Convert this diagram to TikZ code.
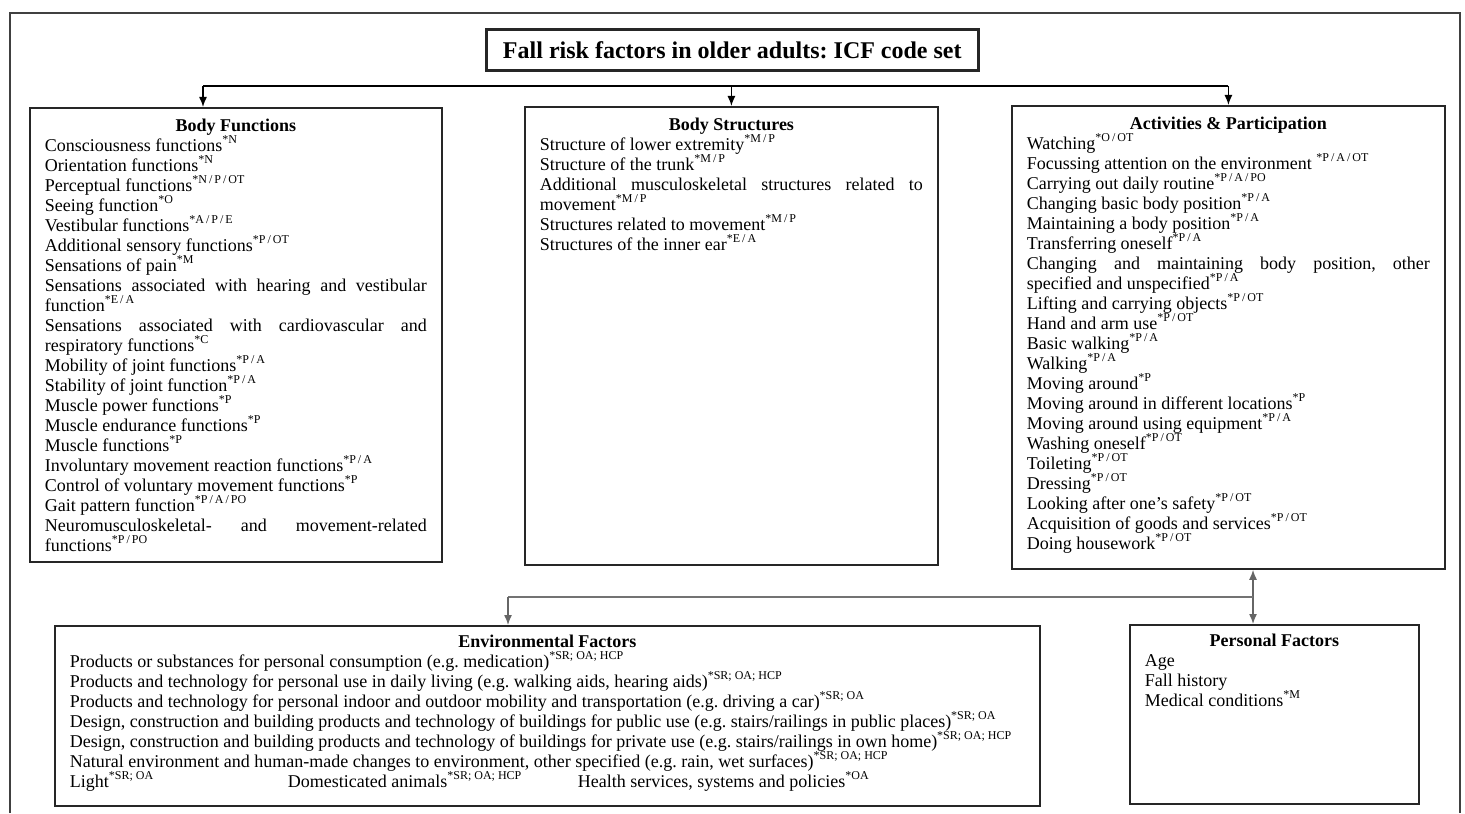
\documentclass[tikz,border=0pt]{standalone}
\usepackage{fontspec}
\setmainfont{Liberation Serif}
\usetikzlibrary{arrows.meta,calc}
\newcommand{\rk}[1]{\textsuperscript{*#1}}
\frenchspacing

\begin{document}
\begin{tikzpicture}[x=0.5pt,y=-0.5pt,
  panel/.style={draw=black!85,line width=0.9pt,anchor=north west,inner xsep=7.5pt,inner ysep=5.5pt,font={\fontsize{9}{10}\selectfont}},
  wire/.style={line width=0.7pt},
  link/.style={wire,-{Latex[length=5pt,width=4pt]}}]
\useasboundingbox (0,0) rectangle (1465,813);
\draw[black!75,line width=1pt] (10,813) -- (10,13) -- (1460,13) -- (1460,813);

\node[draw=black!85,line width=1.3pt,anchor=north west,minimum width=246pt,minimum height=20.5pt,font={\fontsize{12}{14}\selectfont\bfseries}] (title) at (485,28) {Fall risk factors in older adults: ICF code set};

\node[panel] (bodyfun) at (29,107) {\parbox[t][216pt][t]{191pt}{\sloppy
{\centering\textbf{Body Functions}\par}
Consciousness functions\rk{N}\par
Orientation functions\rk{N}\par
Perceptual functions\rk{N\,/\,P\,/\,OT}\par
Seeing function\rk{O}\par
Vestibular functions\rk{A\,/\,P\,/\,E}\par
Additional sensory functions\rk{P\,/\,OT}\par
Sensations of pain\rk{M}\par
Sensations associated with hearing and vestibular\linebreak function\rk{E\,/\,A}\par
Sensations associated with cardiovascular and\linebreak respiratory functions\rk{C}\par
Mobility of joint functions\rk{P\,/\,A}\par
Stability of joint function\rk{P\,/\,A}\par
Muscle power functions\rk{P}\par
Muscle endurance functions\rk{P}\par
Muscle functions\rk{P}\par
Involuntary movement reaction functions\rk{P\,/\,A}\par
Control of voluntary movement functions\rk{P}\par
Gait pattern function\rk{P\,/\,A\,/\,PO}\par
Neuromusculoskeletal- and movement-related\linebreak functions\rk{P\,/\,PO}}};

\node[panel] (bodystr) at (524,106) {\parbox[t][218pt][t]{191.5pt}{\sloppy
{\centering\textbf{Body Structures}\par}
Structure of lower extremity\rk{M\,/\,P}\par
Structure of the trunk\rk{M\,/\,P}\par
Additional musculoskeletal structures related to\linebreak movement\rk{M\,/\,P}\par
Structures related to movement\rk{M\,/\,P}\par
Structures of the inner ear\rk{E\,/\,A}}};

\node[panel] (actpart) at (1011,105) {\parbox[t][220.5pt][t]{201.5pt}{\sloppy
{\centering\textbf{Activities \& Participation}\par}
Watching\rk{O\,/\,OT}\par
Focussing attention on the environment \rk{P\,/\,A\,/\,OT}\par
Carrying out daily routine\rk{P\,/\,A\,/\,PO}\par
Changing basic body position\rk{P\,/\,A}\par
Maintaining a body position\rk{P\,/\,A}\par
Transferring oneself\rk{P\,/\,A}\par
Changing and maintaining body position, other\linebreak specified and unspecified\rk{P\,/\,A}\par
Lifting and carrying objects\rk{P\,/\,OT}\par
Hand and arm use\rk{P\,/\,OT}\par
Basic walking\rk{P\,/\,A}\par
Walking\rk{P\,/\,A}\par
Moving around\rk{P}\par
Moving around in different locations\rk{P}\par
Moving around using equipment\rk{P\,/\,A}\par
Washing oneself\rk{P\,/\,OT}\par
Toileting\rk{P\,/\,OT}\par
Dressing\rk{P\,/\,OT}\par
Looking after one’s safety\rk{P\,/\,OT}\par
Acquisition of goods and services\rk{P\,/\,OT}\par
Doing housework\rk{P\,/\,OT}}};

\node[panel,inner ysep=4.5pt] (envfac) at (54,625) {\parbox[t][81pt][t]{477.5pt}{\raggedright
{\centering\textbf{Environmental Factors}\par}
Products or substances for personal consumption (e.g. medication)\rk{SR; OA; HCP}\par
Products and technology for personal use in daily living (e.g. walking aids, hearing aids)\rk{SR; OA; HCP}\par
Products and technology for personal indoor and outdoor mobility and transportation (e.g. driving a car)\rk{SR; OA}\par
\mbox{Design, construction and building products and technology of buildings for public use (e.g. stairs/railings in public places)\rk{SR; OA}}\par
\mbox{Design, construction and building products and technology of buildings for private use (e.g. stairs/railings in own home)\rk{SR; OA; HCP}}\par
Natural environment and human-made changes to environment, other specified (e.g. rain, wet surfaces)\rk{SR; OA; HCP}\par
\makebox[109pt][l]{Light\rk{SR; OA}}\makebox[145pt][l]{Domesticated animals\rk{SR; OA; HCP}}Health services, systems and policies\rk{OA}}};

\node[panel,inner ysep=4.5pt] (persfac) at (1129,624) {\parbox[t][80.5pt][t]{129.5pt}{\raggedright
{\centering\textbf{Personal Factors}\par}
Age\par
Fall history\par
Medical conditions\rk{M}}};

\coordinate (bus) at (0,86);
\coordinate (bfin) at ($(bodyfun.north west)+(174,0)$);
\draw[wire] (bfin |- bus) -- (actpart.north |- bus);
\foreach \t in {bfin,bodystr.north,actpart.north}
  \draw[link] (\t |- bus) -- (\t);

\coordinate (bus2) at (0,597);
\coordinate (pfin) at ($(persfac.north west)+(124,0)$);
\coordinate (efin) at ($(envfac.north west)+(454,0)$);
\draw[link,black!60,{Latex[length=5pt,width=4pt]}-{Latex[length=5pt,width=4pt]}] (pfin |- actpart.south) -- (pfin);
\draw[wire,black!55] (pfin |- bus2) -- (efin |- bus2);
\draw[link,black!60] (efin |- bus2) -- (efin);
\end{tikzpicture}
\end{document}
